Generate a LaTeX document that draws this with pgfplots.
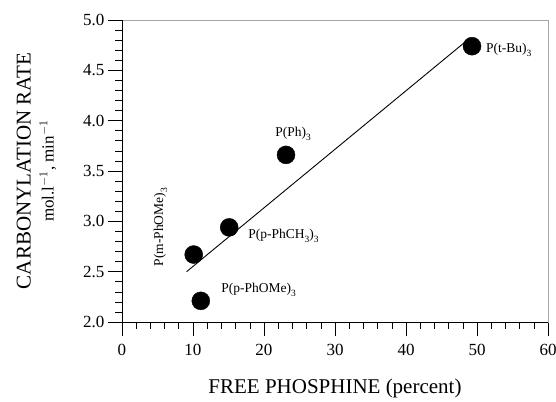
\documentclass[border=0pt]{standalone}
\usepackage{pgfplots}
\pgfplotsset{compat=1.18}
\usepackage{fontspec}
\setmainfont{Liberation Serif}
\newcommand{\sub}[1]{\raisebox{-4pt}{\fontsize{9.5}{9.5}\selectfont #1}}

\begin{document}
\begin{tikzpicture}
\begin{axis}[
  scale only axis,
  width=426pt, height=302pt,
  xmin=0, xmax=60, ymin=2, ymax=5,
  xtick={0,10,...,60}, ytick={2,2.5,...,5},
  minor x tick num=4, minor y tick num=4,
  xtick pos=bottom, ytick pos=left,
  tick align=outside,
  major tick length=14pt, minor tick length=7pt,
  tick style={black, line width=0.6pt},
  axis line style={draw=gray!70, line width=0.8pt},
  /pgf/number format/assume math mode=true,
  yticklabel style={/pgf/number format/fixed, /pgf/number format/fixed zerofill,
    /pgf/number format/precision=1, font=\fontsize{17}{17}\selectfont},
  xticklabel style={font=\fontsize{17}{17}\selectfont, yshift=-5pt},
  xlabel={FREE PHOSPHINE (percent)},
  xlabel style={font=\fontsize{21}{21}\selectfont, yshift=-16pt},
  ylabel={CARBONYLATION RATE\\[2pt]{\fontsize{17}{17}\selectfont mol.l$^{-1}$, min$^{-1}$}},
  ylabel style={font=\fontsize{21}{21}\selectfont, align=center, yshift=20pt},
  clip=false,
]
\draw[black, line width=0.8pt] (rel axis cs:0,1) -- (rel axis cs:0,0) -- (rel axis cs:1,0);
\addplot[black, line width=0.9pt] coordinates {(9.1,2.5) (48.3,4.78)};
\addplot[only marks, mark=*, mark size=9pt, black] coordinates
  {(49.3,4.74) (23.1,3.66) (15.1,2.94) (10.1,2.67) (11.1,2.21)};
\begin{scope}[every node/.style={font=\fontsize{13.5}{13.5}\selectfont}]
\node[anchor=base west] at (axis cs:50.8,4.68) {P(t-Bu)\sub{3}};
\node[anchor=base] at (axis cs:24.1,3.84) {P(Ph)\sub{3}};
\node[anchor=base west] at (axis cs:17.3,2.83) {P(p-PhCH\sub{3})\sub{3}};
\node[anchor=base west] at (axis cs:13.5,2.29) {P(p-PhOMe)\sub{3}};
\node[rotate=90, anchor=base] at (axis cs:5.8,2.94) {P(m-PhOMe)\sub{3}};
\end{scope}
\end{axis}
\pgfresetboundingbox
\path (-122pt,-79pt) rectangle (434pt,322pt);
\end{tikzpicture}
\end{document}
